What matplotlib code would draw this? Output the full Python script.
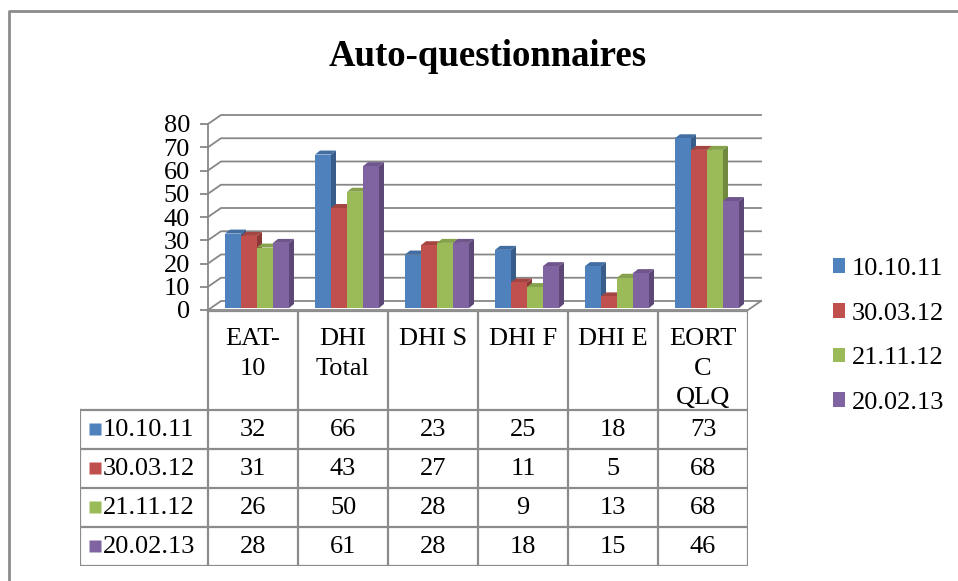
import matplotlib
matplotlib.use("Agg")
import matplotlib.pyplot as plt
from matplotlib.patches import Rectangle, Polygon, Patch
from matplotlib.lines import Line2D

plt.rcParams['font.family'] = ['Liberation Serif', 'DejaVu Serif']

# data
categories = ["EAT-\n10", "DHI\nTotal", "DHI S", "DHI F", "DHI E", "EORT\nC\nQLQ"]
series = ["10.10.11", "30.03.12", "21.11.12", "20.02.13"]
v_101011 = [32, 66, 23, 25, 18, 73]
v_300312 = [31, 43, 27, 11, 5, 68]
v_211112 = [26, 50, 28, 9, 13, 68]
v_200213 = [28, 61, 28, 18, 15, 46]
values = [v_101011, v_300312, v_211112, v_200213]
yticks = [0, 10, 20, 30, 40, 50, 60, 70, 80]

front = ['#4F81BD', '#C0504D', '#9BBB59', '#8064A2']
side = ['#385D8A', '#8C3836', '#71893F', '#5C4776']
top = ['#426EA3', '#A54542', '#86A34C', '#6E568C']
grid_c = '#878787'

W, H = 958, 581
fig = plt.figure(figsize=(W / 100, H / 100), dpi=100)


def fx(px):
    return px / W


def fy(py):
    return 1 - py / H


# chart area (front plane), pixel layout
x0p, x1p, y0p, y1p = 208, 748, 310, 124
ax = fig.add_axes([fx(x0p), fy(y0p), (x1p - x0p) / W, (y0p - y1p) / H])
n = len(categories)
ax.set_xlim(0, n)
ax.set_ylim(0, 80)
ppx = (x1p - x0p) / n      # px per category
ppy = (y0p - y1p) / 80     # px per unit

# depth of walls
wdx, wdy = 13 / ppx, 9 / ppy
for v in yticks:
    ax.plot([0, wdx, n + wdx], [v, v + wdy, v + wdy], color=grid_c, lw=1.3,
            clip_on=False, zorder=1)
# floor
ax.plot([0, n, n + wdx], [0, 0, wdy], color=grid_c, lw=1.3, clip_on=False, zorder=1)

# front axis with ticks
for s in ['top', 'right', 'bottom']:
    ax.spines[s].set_visible(False)
ax.spines['left'].set_color(grid_c)
ax.spines['left'].set_linewidth(1.3)
ax.set_xticks([])
ax.set_yticks(yticks)
ax.tick_params(axis='y', length=6, width=1.3, color=grid_c, labelsize=19, pad=7)
ax.patch.set_visible(False)

# bars (sit a little behind the front edge of the floor)
bw = 16 / ppx
bdx, bdy = 5 / ppx, 4 / ppy
base = 2 / ppy
for c in range(n):
    for s in range(len(series)):
        v = values[s][c]
        xl = c + (17 + 16 * s) / ppx
        xr = xl + bw
        ax.add_patch(Polygon([(xr, base), (xr + bdx, base + bdy),
                              (xr + bdx, base + v + bdy), (xr, base + v)],
                             closed=True, fc=side[s], ec='none', zorder=3, clip_on=False))
        ax.add_patch(Polygon([(xl, base + v), (xl + bdx, base + v + bdy),
                              (xr + bdx, base + v + bdy), (xr, base + v)],
                             closed=True, fc=top[s], ec='none', zorder=3, clip_on=False))
        ax.add_patch(Rectangle((xl, base), bw, v, fc=front[s], ec='none',
                               zorder=3, clip_on=False))

# data table
tx0 = 80
tab = fig.add_axes([fx(tx0), fy(566), (x1p - tx0) / W, (566 - 311) / H])
tab.set_xlim(-(x0p - tx0) / ppx, n)
tab.set_ylim(566, 311)
tab.axis('off')
rows = [311, 410, 449, 488, 527, 566]
lc = '#8c8c8c'
tab.plot([0, n], [rows[0], rows[0]], color=lc, lw=1.6)
for r in rows[1:]:
    tab.plot([-(x0p - tx0) / ppx, n], [r, r], color=lc, lw=1.6)
for c in range(n + 1):
    tab.plot([c, c], [rows[0], rows[-1]], color=lc, lw=1.6)
tab.plot([-(x0p - tx0) / ppx] * 2, [rows[1], rows[-1]], color=lc, lw=1.6)

for c, lab in enumerate(categories):
    tab.text(c + 0.5, 328, lab, ha='center', va='top', fontsize=19,
             linespacing=1.45)
for s, name in enumerate(series):
    yc = (rows[s + 1] + rows[s + 2]) / 2
    tab.plot([-(x0p - 95) / ppx], [yc], marker='s', ms=8.5, color=front[s], mec='none')
    tab.text(-(x0p - 103) / ppx, yc + 1, name, ha='left', va='center', fontsize=19)
    for c in range(n):
        tab.text(c + 0.5, yc + 1, str(values[s][c]), ha='center', va='center',
                 fontsize=19)

# legend
handles = [Patch(fc=front[s], ec='none') for s in range(len(series))]
fig.legend(handles, series, loc='center left', bbox_to_anchor=(fx(822), fy(336)),
           frameon=False, fontsize=19, handlelength=0.47, handleheight=0.47,
           handletextpad=0.25, labelspacing=0.86, borderaxespad=0)

# title
fig.text(fx(488), fy(56), "Auto-questionnaires", ha='center', va='center',
         fontsize=26.5, fontweight='bold')

# outer frame
fig.add_artist(Line2D([fx(9), fx(9), 1], [0, fy(11), fy(11)], color='#8c8c8c',
                      lw=2, transform=fig.transFigure))

fig.savefig("out.png", dpi=100)
